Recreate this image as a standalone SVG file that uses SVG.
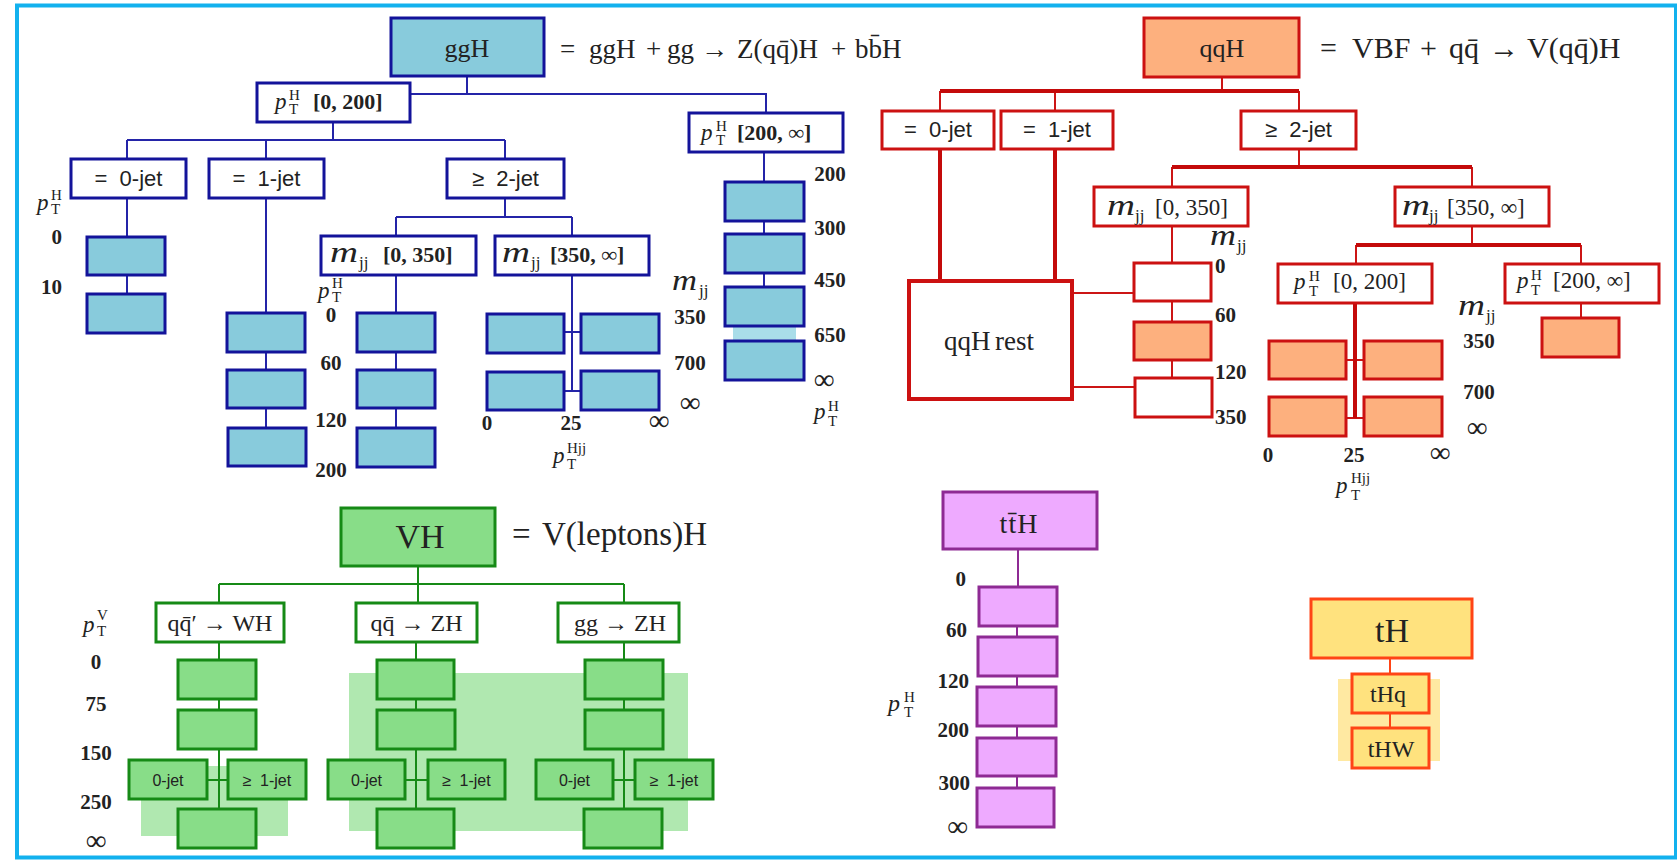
<svg xmlns="http://www.w3.org/2000/svg" width="1677" height="861" viewBox="0 0 1677 861">
<style>
.fr{fill:none;stroke:#12b1ee;stroke-width:4}
.nb rect{stroke:#13139a;stroke-width:3}
.bf{fill:#88cbdc}
.w{fill:#fff}
.cb{fill:none;stroke:#2424a8;stroke-width:2}
.nr rect{stroke:#cc1111;stroke-width:3}
.nr rect.rest{stroke-width:4}
.of{fill:#fdb07e}
.cr{fill:none;stroke:#cc1515;stroke-width:2}
.crt{fill:none;stroke:#c40a0a;stroke-width:4}
.ng rect{stroke:#168a16;stroke-width:3;fill:#88dd88}
.ng rect.w{fill:#fff}
.cg{fill:none;stroke:#168a16;stroke-width:2}
.np rect{stroke:#8e2a94;stroke-width:3;fill:#eeaaff}
.cp{fill:none;stroke:#8e2a94;stroke-width:2}
.ny rect{stroke:#ff4416;stroke-width:3;fill:#ffe27e}
.cy{fill:none;stroke:#ff4416;stroke-width:2}
text{fill:#222}
.t{font-family:"Liberation Serif","DejaVu Serif",serif}
.s{font-family:"Liberation Sans","DejaVu Sans",sans-serif}
.i{font-style:italic}
.b{font-weight:bold}
.n{font-family:"Liberation Serif","DejaVu Serif",serif;font-weight:bold;font-size:21px}
.n .inf{font-weight:normal;font-size:29px}
.mid{text-anchor:middle}
.end{text-anchor:end}
.jet{font-size:22px;word-spacing:6px}
.sj{font-size:16px;word-spacing:4px}
.sup{font-size:15px}
</style>
<rect class="fr" x="17" y="5.5" width="1659" height="852"/>

<!-- bands -->
<g id="bands">
<rect x="733" y="326" width="63" height="15" fill="#a9dde9"/>
<rect x="141" y="766" width="147" height="70" fill="#b0e8b0"/>
<rect x="349" y="673" width="339" height="158" fill="#b0e8b0"/>
<rect x="1338" y="679" width="102" height="82" fill="#ffe9a2"/>
</g>

<g id="connectors">
<path class="cb" d="M467,76V94M410,94H766V113M333,122V140M127,140H505M127,140V159M266,140V159M505,140V159M127,198V237M127,275V294M266,198V313M266,352V370M266,408V428M505,198V217M396,217H572M396,217V236M572,217V236M396,275V313M396,352V370M396,408V428M572,275V391M564,332H581M564,391H581M764,152V182M764,221V234M764,273V287"/>
<path class="cr" d="M1222,77V91M940,91V111M1055,91V111M1299,91V111M1299,149V167M1172,167V187M1472,167V187M1172,226V263M1172,301V322M1172,360V378M1072,293H1134M1072,387H1134M1472,226V245M1356,245V264M1581,245V264M1346,360H1364M1346,418H1364M1581,303V318"/>
<path class="crt" d="M940,91H1299M940,149V281M1055,149V281M1172,167H1472M1356,245H1581M1355,303V418"/>
<path class="cg" d="M418,566V584M219,584H624M219,584V603M418,584V603M624,584V603M219,642V660M219,699V710M219,749V809M207,780H228M416,642V660M416,699V710M416,749V809M405,780H428M624,642V660M624,699V710M624,749V809M613,780H635"/>
<path class="cp" d="M1018,549V587M1017,626V637M1017,676V687M1017,726V738M1017,776V788"/>
<path class="cy" d="M1390,658V674M1390,713V728"/>
</g>

<!-- ggH tree -->
<g id="ggH" class="nb"><rect class="bf" x="391" y="18" width="153" height="58"/><text class="t mid" x="467" y="57" font-size="26">ggH</text></g>
<g id="ggH-def" class="t" font-size="27">
<text x="560" y="58">=</text><text x="589" y="58">ggH</text><text x="646" y="58">+</text><text x="667" y="58">gg</text><text x="701" y="58">→</text><text x="737" y="58">Z(qq&#x304;)H</text><text x="831" y="58">+</text><text x="855" y="58">bb&#x304;H</text>
</g>
<g id="ggH-pt0-200" class="nb"><rect class="w" x="257" y="83" width="153" height="39"/>
<text class="t i" x="275" y="109" font-size="23">p</text><text class="t sup" x="289" y="100">H</text><text class="t sup" x="289" y="114">T</text><text class="t b" x="313" y="109" font-size="22">[0, 200]</text></g>
<g id="ggH-pt200-inf" class="nb"><rect class="w" x="689" y="113" width="154" height="39"/>
<text class="t i" x="701" y="140" font-size="23">p</text><text class="t sup" x="716" y="131">H</text><text class="t sup" x="716" y="145">T</text><text class="t b" x="737" y="140" font-size="22">[200, ∞]</text></g>
<g id="ggH-0jet" class="nb"><rect class="w" x="71" y="159" width="115" height="39"/><text class="s mid jet" x="128.5" y="186">= 0-jet</text></g>
<g id="ggH-1jet" class="nb"><rect class="w" x="209" y="159" width="115" height="39"/><text class="s mid jet" x="266.5" y="186">= 1-jet</text></g>
<g id="ggH-2jet" class="nb"><rect class="w" x="447" y="159" width="117" height="39"/><text class="s mid jet" x="505.5" y="186">≥ 2-jet</text></g>
<g id="ggH-mjj0-350" class="nb"><rect class="w" x="321" y="236" width="155" height="39"/>
<text class="t i" x="330" y="262" font-size="30" textLength="28" lengthAdjust="spacingAndGlyphs">m</text><text class="t" x="359" y="268" font-size="17">jj</text><text class="t b" x="383" y="262" font-size="22">[0, 350]</text></g>
<g id="ggH-mjj350-inf" class="nb"><rect class="w" x="495" y="236" width="154" height="39"/>
<text class="t i" x="502" y="262" font-size="30" textLength="28" lengthAdjust="spacingAndGlyphs">m</text><text class="t" x="531" y="268" font-size="17">jj</text><text class="t b" x="550" y="262" font-size="22">[350, ∞]</text></g>
<g id="ggH-0jet-bins" class="nb"><rect class="bf" x="87" y="237" width="78" height="38"/><rect class="bf" x="87" y="294" width="78" height="39"/></g>
<g id="ggH-1jet-bins" class="nb"><rect class="bf" x="227" y="313" width="78" height="39"/><rect class="bf" x="227" y="370" width="78" height="38"/><rect class="bf" x="228" y="428" width="78" height="38"/></g>
<g id="ggH-mjjlow-bins" class="nb"><rect class="bf" x="357" y="313" width="78" height="39"/><rect class="bf" x="357" y="370" width="78" height="38"/><rect class="bf" x="357" y="428" width="78" height="39"/></g>
<g id="ggH-mjjhigh-bins" class="nb"><rect class="bf" x="487" y="314" width="77" height="39"/><rect class="bf" x="581" y="314" width="78" height="39"/><rect class="bf" x="487" y="372" width="77" height="38"/><rect class="bf" x="581" y="371" width="78" height="39"/></g>
<g id="ggH-pthigh-bins" class="nb"><rect class="bf" x="725" y="182" width="79" height="39"/><rect class="bf" x="725" y="234" width="79" height="39"/><rect class="bf" x="725" y="287" width="79" height="39"/><rect class="bf" x="725" y="341" width="79" height="39"/></g>

<!-- qqH tree -->
<g id="qqH" class="nr"><rect class="of" x="1144" y="18" width="155" height="59"/><text class="t mid" x="1222" y="57" font-size="26">qqH</text></g>
<g id="qqH-def" class="t" font-size="30">
<text x="1320" y="58">=</text><text x="1352" y="58">VBF</text><text x="1420" y="58">+</text><text x="1449" y="58">qq&#x304;</text><text x="1489" y="58">→</text><text x="1527" y="58">V(qq&#x304;)H</text>
</g>
<g id="qqH-0jet" class="nr"><rect class="w" x="882" y="111" width="112" height="38"/><text class="s mid jet" x="938" y="137">= 0-jet</text></g>
<g id="qqH-1jet" class="nr"><rect class="w" x="1001" y="111" width="112" height="38"/><text class="s mid jet" x="1057" y="137">= 1-jet</text></g>
<g id="qqH-2jet" class="nr"><rect class="w" x="1241" y="111" width="115" height="38"/><text class="s mid jet" x="1298.5" y="137">≥ 2-jet</text></g>
<g id="qqH-rest" class="nr"><rect class="w rest" x="909" y="281" width="163" height="118"/><text class="t mid" x="989" y="350" font-size="27" word-spacing="-2">qqH rest</text></g>
<g id="qqH-mjj0-350" class="nr"><rect class="w" x="1094" y="187" width="154" height="39"/>
<text class="t i" x="1107" y="215" font-size="30" textLength="28" lengthAdjust="spacingAndGlyphs">m</text><text class="t" x="1135" y="221" font-size="17">jj</text><text class="t" x="1155" y="215" font-size="23">[0, 350]</text></g>
<g id="qqH-mjj350-inf" class="nr"><rect class="w" x="1395" y="187" width="154" height="39"/>
<text class="t i" x="1402" y="215" font-size="30" textLength="28" lengthAdjust="spacingAndGlyphs">m</text><text class="t" x="1429" y="221" font-size="17">jj</text><text class="t" x="1447" y="215" font-size="23">[350, ∞]</text></g>
<g id="qqH-pt0-200" class="nr"><rect class="w" x="1278" y="264" width="154" height="39"/>
<text class="t i" x="1294" y="289" font-size="23">p</text><text class="t sup" x="1309" y="281">H</text><text class="t sup" x="1309" y="296">T</text><text class="t" x="1333" y="289" font-size="23">[0, 200]</text></g>
<g id="qqH-pt200-inf" class="nr"><rect class="w" x="1505" y="264" width="154" height="39"/>
<text class="t i" x="1517" y="288" font-size="23">p</text><text class="t sup" x="1531" y="280">H</text><text class="t sup" x="1531" y="295">T</text><text class="t" x="1553" y="288" font-size="23">[200, ∞]</text></g>
<g id="qqH-mjjlow-bins" class="nr"><rect class="w" x="1134" y="263" width="77" height="38"/><rect class="of" x="1134" y="322" width="77" height="38"/><rect class="w" x="1135" y="378" width="77" height="39"/></g>
<g id="qqH-grid-bins" class="nr"><rect class="of" x="1269" y="341" width="77" height="38"/><rect class="of" x="1364" y="341" width="78" height="38"/><rect class="of" x="1269" y="397" width="77" height="39"/><rect class="of" x="1364" y="397" width="78" height="39"/></g>
<g id="qqH-pthigh-bin" class="nr"><rect class="of" x="1542" y="318" width="77" height="39"/></g>

<!-- VH tree -->
<g id="VH" class="ng"><rect x="341" y="508" width="154" height="58"/><text class="t mid" x="420" y="548" font-size="34">VH</text></g>
<g id="VH-def" class="t" font-size="33"><text x="512" y="545">=</text><text x="542" y="545">V(leptons)H</text></g>
<g id="VH-WH" class="ng"><rect class="w" x="156" y="603" width="128" height="39"/><text class="t mid" x="220" y="631" font-size="24">qq&#x304;&#x2032; → WH</text></g>
<g id="VH-qqZH" class="ng"><rect class="w" x="356" y="603" width="121" height="39"/><text class="t mid" x="416.5" y="631" font-size="24">qq&#x304; → ZH</text></g>
<g id="VH-ggZH" class="ng"><rect class="w" x="558" y="603" width="121" height="39"/><text class="t mid" x="620" y="631" font-size="24">gg → ZH</text></g>
<g id="VH-WH-bins" class="ng"><rect x="178" y="660" width="78" height="39"/><rect x="178" y="710" width="78" height="39"/><rect x="129" y="760" width="78" height="39"/><text class="s mid sj" x="168" y="786">0-jet</text><rect x="228" y="760" width="78" height="39"/><text class="s mid sj" x="267" y="786">≥ 1-jet</text><rect x="178" y="809" width="78" height="39"/></g>
<g id="VH-qqZH-bins" class="ng"><rect x="377" y="660" width="77" height="39"/><rect x="377" y="710" width="78" height="39"/><rect x="328" y="760" width="77" height="39"/><text class="s mid sj" x="366.5" y="786">0-jet</text><rect x="428" y="760" width="77" height="39"/><text class="s mid sj" x="466.5" y="786">≥ 1-jet</text><rect x="377" y="809" width="77" height="39"/></g>
<g id="VH-ggZH-bins" class="ng"><rect x="585" y="660" width="78" height="39"/><rect x="585" y="710" width="78" height="39"/><rect x="536" y="760" width="77" height="39"/><text class="s mid sj" x="574.5" y="786">0-jet</text><rect x="635" y="760" width="78" height="39"/><text class="s mid sj" x="674" y="786">≥ 1-jet</text><rect x="584" y="809" width="78" height="39"/></g>

<!-- ttH -->
<g id="ttH" class="np"><rect x="943" y="492" width="154" height="57"/><text class="t mid" x="1019" y="533" font-size="28" letter-spacing="1">tt&#x304;H</text></g>
<g id="ttH-bins" class="np"><rect x="979" y="587" width="78" height="39"/><rect x="978" y="637" width="79" height="39"/><rect x="977" y="687" width="79" height="39"/><rect x="977" y="738" width="79" height="38"/><rect x="977" y="788" width="77" height="39"/></g>

<!-- tH -->
<g id="tH" class="ny"><rect x="1311" y="599" width="161" height="59"/><text class="t mid" x="1392" y="642" font-size="34">tH</text></g>
<g id="tHq" class="ny"><rect x="1352" y="674" width="77" height="39"/><text class="t mid" x="1388" y="702" font-size="24">tHq</text></g>
<g id="tHW" class="ny"><rect x="1352" y="728" width="77" height="40"/><text class="t mid" x="1391" y="757" font-size="24">tHW</text></g>

<!-- axis labels -->
<g id="axis-labels">
<g class="n end"><text x="62" y="244">0</text><text x="62" y="294">10</text></g>
<text class="t i" x="37" y="210" font-size="23">p</text><text class="t sup" x="51" y="200">H</text><text class="t sup" x="51" y="214">T</text>

<g class="n mid"><text x="331" y="322">0</text><text x="331" y="370">60</text><text x="331" y="427">120</text><text x="331" y="477">200</text></g>
<text class="t i" x="318" y="298" font-size="23">p</text><text class="t sup" x="332" y="288">H</text><text class="t sup" x="332" y="302">T</text>

<g class="n mid"><text x="690" y="324">350</text><text x="690" y="370">700</text><text class="inf" x="690" y="412">∞</text><text x="487" y="430">0</text><text x="571" y="430">25</text><text class="inf" x="659" y="430">∞</text></g>
<text class="t i" x="672" y="290" font-size="30" textLength="25" lengthAdjust="spacingAndGlyphs">m</text><text class="t" x="699" y="296" font-size="17">jj</text>
<text class="t i" x="553" y="463" font-size="23">p</text><text class="t sup" x="567" y="453">Hjj</text><text class="t sup" x="567" y="469">T</text>

<g class="n mid"><text x="830" y="181">200</text><text x="830" y="235">300</text><text x="830" y="287">450</text><text x="830" y="342">650</text><text class="inf" x="824" y="389">∞</text></g>
<text class="t i" x="814" y="419" font-size="23">p</text><text class="t sup" x="828" y="411">H</text><text class="t sup" x="828" y="426">T</text>

<g class="n"><text x="1215" y="273">0</text><text x="1215" y="322">60</text><text x="1215" y="379">120</text><text x="1215" y="424">350</text></g>
<text class="t i" x="1210" y="245" font-size="30" textLength="26" lengthAdjust="spacingAndGlyphs">m</text><text class="t" x="1237" y="251" font-size="17">jj</text>

<g class="n mid"><text x="1479" y="348">350</text><text x="1479" y="399">700</text><text class="inf" x="1477" y="437">∞</text><text x="1268" y="462">0</text><text x="1354" y="462">25</text><text class="inf" x="1440" y="462">∞</text></g>
<text class="t i" x="1458" y="315" font-size="30" textLength="27" lengthAdjust="spacingAndGlyphs">m</text><text class="t" x="1486" y="321" font-size="17">jj</text>
<text class="t i" x="1336" y="493" font-size="23">p</text><text class="t sup" x="1351" y="483">Hjj</text><text class="t sup" x="1351" y="500">T</text>

<g class="n mid"><text x="96" y="669">0</text><text x="96" y="711">75</text><text x="96" y="760">150</text><text x="96" y="809">250</text><text class="inf" x="96" y="850">∞</text></g>
<text class="t i" x="83" y="632" font-size="23">p</text><text class="t sup" x="97" y="620">V</text><text class="t sup" x="97" y="636">T</text>

<g class="n end"><text x="966" y="586">0</text><text x="967" y="637">60</text><text x="969" y="688">120</text><text x="969" y="737">200</text><text x="970" y="790">300</text><text class="inf" x="968" y="836">∞</text></g>
<text class="t i" x="888" y="711" font-size="24">p</text><text class="t sup" x="904" y="702">H</text><text class="t sup" x="904" y="717">T</text>
</g>
</svg>
